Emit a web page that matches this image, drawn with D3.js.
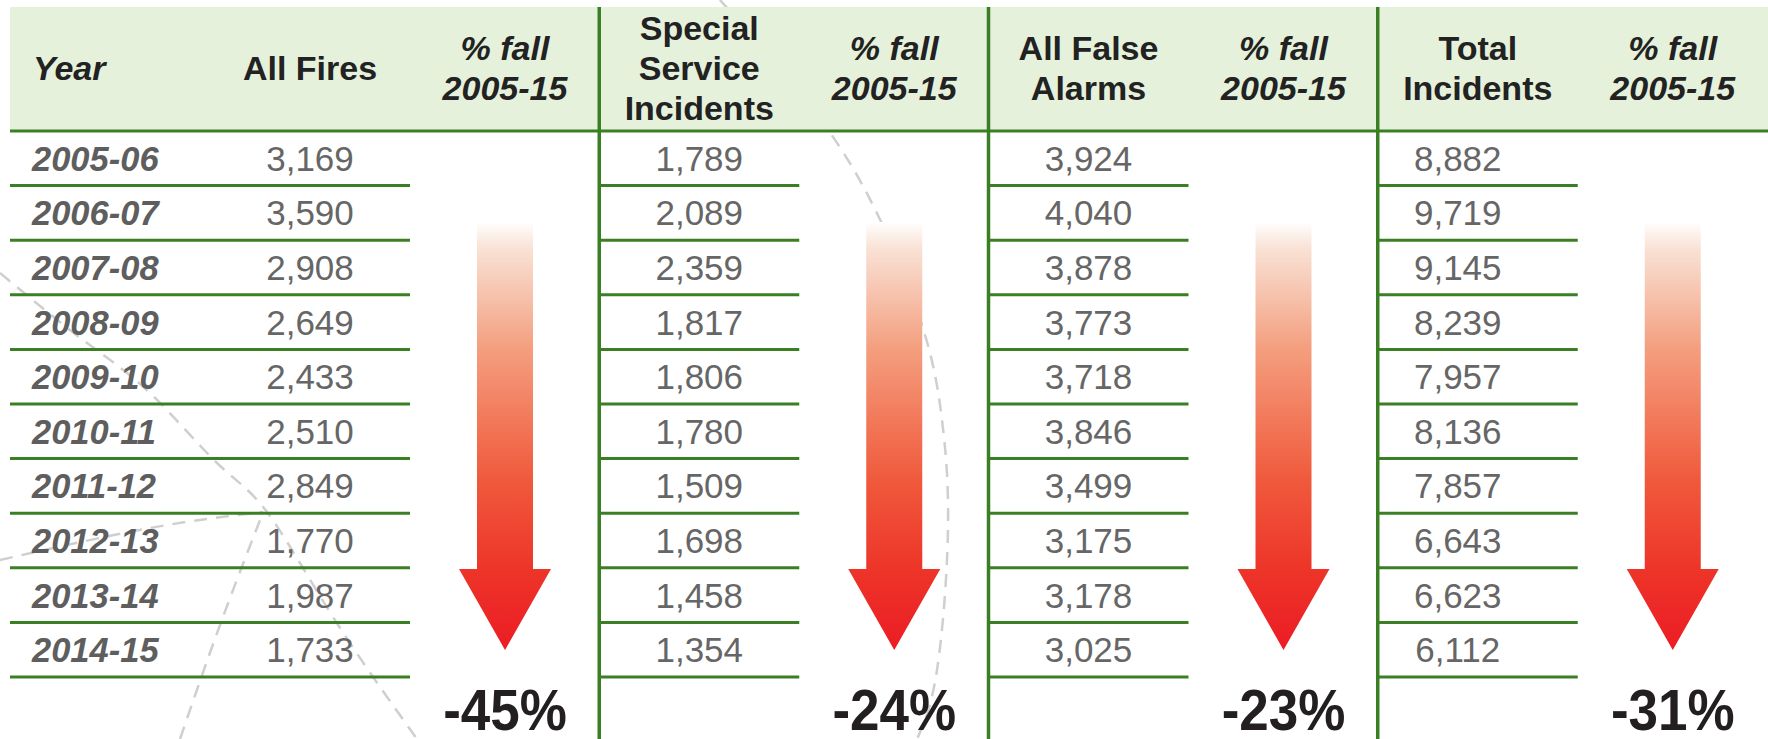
<!DOCTYPE html>
<html>
<head>
<meta charset="utf-8">
<script src="https://cdnjs.cloudflare.com/ajax/libs/d3/7.8.5/d3.min.js"></script>
<style>
  body { margin: 0; background: #fff; }
  svg { display: block; font-family: "Liberation Sans", Arial, sans-serif; }
</style>
</head>
<body>
<div id="result"></div>
<script>
// table data
const years = ["2005-06", "2006-07", "2007-08", "2008-09", "2009-10", "2010-11", "2011-12", "2012-13", "2013-14", "2014-15"];
const allFires = [3169, 3590, 2908, 2649, 2433, 2510, 2849, 1770, 1987, 1733];
const specialService = [1789, 2089, 2359, 1817, 1806, 1780, 1509, 1698, 1458, 1354];
const falseAlarms = [3924, 4040, 3878, 3773, 3718, 3846, 3499, 3175, 3178, 3025];
const totalIncidents = [8882, 9719, 9145, 8239, 7957, 8136, 7857, 6643, 6623, 6112];
const percentFall = [-45, -24, -23, -31];
const groupHeaders = [["All Fires"], ["Special", "Service", "Incidents"], ["All False", "Alarms"], ["Total", "Incidents"]];
const fallHeader = ["% fall", "2005-15"];

const series = [allFires, specialService, falseAlarms, totalIncidents];

const width = 1768, height = 739;
const green = "#3a7f24";
const fmt = d3.format(",");

const svg = d3.select('#result')
    .append("svg")
    .attr("width", width)
    .attr("height", height);

// rows and column groups
const y = d3.scaleBand().domain(years).range([131, 677]);
const gx = d3.scaleLinear().domain([0, 4]).range([210, 1767]);
const valueW = 200;     // width of the number column in each group
const fallOffset = 295; // centre of the "% fall" column from group start
const valueShift = [0, 0, 0, -20];

// gradient for the arrows
const grad = svg.append("defs").append("linearGradient")
    .attr("id", "fallGrad")
    .attr("gradientUnits", "userSpaceOnUse")
    .attr("x1", 0).attr("x2", 0)
    .attr("y1", 222).attr("y2", 650);
[[0, "#ffffff"], [0.06, "#f9e2d6"], [0.29, "#f4a080"], [0.6, "#f05a3c"], [0.81, "#ed3529"], [1, "#ec1c24"]]
    .forEach(s => grad.append("stop").attr("offset", s[0]).attr("stop-color", s[1]));

// faint dashed decoration behind the table
const deco = [
    [[0, 273], [83, 340], [150, 393], [217, 463], [267, 512], [333, 617], [417, 739]],
    [[0, 560], [150, 528], [263, 512]],
    [[180, 739], [220, 625], [262, 515]],
    [[720, 0], [790, 80], [863, 186], [921, 322], [942, 420], [948, 528], [937, 670], [917, 739]]
];
svg.append("g")
    .selectAll("path")
    .data(deco)
    .enter()
    .append("path")
    .attr("d", d3.line().curve(d3.curveNatural))
    .attr("fill", "none")
    .attr("stroke", "#cfcfcf")
    .attr("stroke-width", 2.5)
    .attr("stroke-dasharray", "13,9");

// header band
svg.append("rect")
    .attr("x", 10)
    .attr("y", 7)
    .attr("width", width - 10)
    .attr("height", 124)
    .attr("fill", "#e5f1da");

// header labels, centred vertically in the band
function headerText(lines, x, anchor, italic) {
    const n = lines.length;
    svg.append("g")
        .selectAll("text")
        .data(lines)
        .enter()
        .append("text")
        .attr("x", x)
        .attr("y", (d, i) => 80 + (i - (n - 1) / 2) * 40)
        .attr("text-anchor", anchor)
        .style("font-size", "34px")
        .style("font-weight", "bold")
        .style("font-style", italic ? "italic" : "normal")
        .style("fill", "#222")
        .text(d => d);
}
headerText(["Year"], 33, "start", true);
groupHeaders.forEach((h, i) => {
    headerText(h, gx(i) + valueW / 2, "middle", false);
    headerText(fallHeader, gx(i) + fallOffset, "middle", true);
});

// horizontal row rules
svg.append("line")
    .attr("x1", 10).attr("x2", width)
    .attr("y1", 131).attr("y2", 131)
    .attr("stroke", green)
    .attr("stroke-width", 3);

series.forEach((s, i) => {
    const x0 = i === 0 ? 10 : gx(i);
    svg.append("g")
        .selectAll("line")
        .data(years)
        .enter()
        .append("line")
        .attr("x1", x0)
        .attr("x2", gx(i) + valueW)
        .attr("y1", d => y(d) + y.bandwidth())
        .attr("y2", d => y(d) + y.bandwidth())
        .attr("stroke", green)
        .attr("stroke-width", 3);
});

// vertical group dividers
svg.append("g")
    .selectAll("line")
    .data([1, 2, 3])
    .enter()
    .append("line")
    .attr("x1", d => gx(d)).attr("x2", d => gx(d))
    .attr("y1", 7).attr("y2", height)
    .attr("stroke", green)
    .attr("stroke-width", 3.5);

// year labels
svg.append("g")
    .selectAll("text")
    .data(years)
    .enter()
    .append("text")
    .attr("x", 32)
    .attr("y", d => y(d) + y.bandwidth() / 2 + 12.5)
    .style("font-size", "34.5px")
    .style("font-weight", "bold")
    .style("font-style", "italic")
    .style("fill", "#5e5e5e")
    .text(d => d);

// values
series.forEach((s, i) => {
    svg.append("g")
        .selectAll("text")
        .data(s)
        .enter()
        .append("text")
        .attr("x", gx(i) + valueW / 2 + valueShift[i])
        .attr("y", (d, j) => y(years[j]) + y.bandwidth() / 2 + 12.5)
        .attr("text-anchor", "middle")
        .style("font-size", "35px")
        .style("fill", "#666")
        .text(d => fmt(d));
});

// down arrows
function arrowPath(cx) {
    const p = d3.path();
    p.moveTo(cx - 28, 222);
    p.lineTo(cx + 28, 222);
    p.lineTo(cx + 28, 569);
    p.lineTo(cx + 46, 569);
    p.lineTo(cx, 650);
    p.lineTo(cx - 46, 569);
    p.lineTo(cx - 28, 569);
    p.closePath();
    return p.toString();
}
svg.append("g")
    .selectAll("path")
    .data(percentFall)
    .enter()
    .append("path")
    .attr("d", (d, i) => arrowPath(gx(i) + fallOffset))
    .attr("fill", "url(#fallGrad)");

// big percentage figures
svg.append("g")
    .selectAll("text")
    .data(percentFall)
    .enter()
    .append("text")
    .attr("transform", (d, i) => `translate(${gx(i) + fallOffset},730) scale(0.93,1)`)
    .attr("text-anchor", "middle")
    .style("font-size", "57px")
    .style("font-weight", "bold")
    .style("fill", "#231f20")
    .text(d => d + "%");
</script>
</body>
</html>
